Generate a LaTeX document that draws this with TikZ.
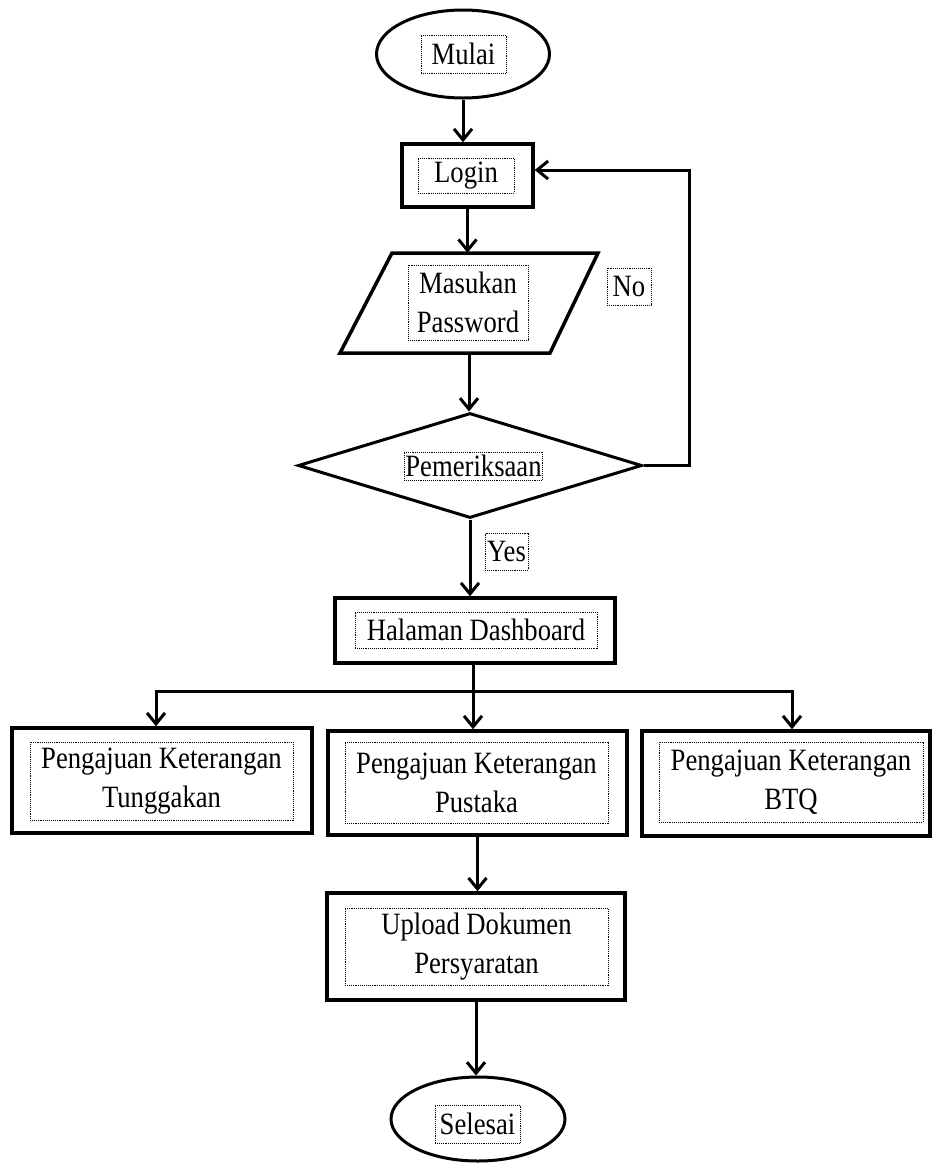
\documentclass[tikz,border=0pt]{standalone}
\usepackage{fontspec}
\setmainfont{Liberation Serif}[FakeStretch=0.86]
\usetikzlibrary{shapes.geometric,arrows.meta}
\tikzset{
  box/.style={draw, rectangle, line width=3.5pt, inner sep=0pt},
  term/.style={draw, ellipse, line width=3pt, inner sep=0pt},
  txt/.style={draw, densely dotted, line width=0.9pt, align=center, inner sep=1pt, font=\fontsize{31}{39}\selectfont},
  arr/.style={line width=3pt, -{Straight Barb[length=11pt,width=18pt,line width=3pt]}},
  ln/.style={line width=3pt},
}
\begin{document}
\begin{tikzpicture}[x=1pt,y=-1pt]
\useasboundingbox (0,0) rectangle (932,1163);
% shapes
\node[term, minimum width=173pt, minimum height=88pt] (mulai) at (463,54) {};
\node[txt, minimum width=85pt, minimum height=38pt] (tmulai) at (463.5,54) {Mulai};
\node[box, minimum width=131pt, minimum height=63pt] (login) at (467.5,175.5) {};
\node[txt, minimum width=96pt, minimum height=35pt] (tlogin) at (466,175.5) {Login};
\draw[line width=3.5pt] (340,353) -- (392,253) -- (598,253) -- (550,353) -- cycle;
\node[minimum width=210pt, minimum height=100pt, inner sep=0pt] (para) at (469,303) {};
\node[txt, minimum width=120pt, minimum height=75pt] (tpara) at (468,302.5) {Masukan\\Password};
\node[txt, minimum width=44pt, minimum height=37pt] (tno) at (629,286.5) {No};
\node[draw, diamond, line width=3pt, minimum width=344pt, minimum height=105pt, aspect=3.28, inner sep=0pt] (diam) at (470,465.5) {};
\node[txt, minimum width=137pt, minimum height=28pt] (tdiam) at (473.5,466) {Pemeriksaan};
\node[txt, minimum width=43pt, minimum height=37pt] (tyes) at (506.5,551.5) {Yes};
\node[box, minimum width=280pt, minimum height=65pt] (halaman) at (475,630.5) {};
\node[txt, minimum width=242pt, minimum height=36pt] (thalaman) at (476,630) {Halaman Dashboard};
\node[box, minimum width=300pt, minimum height=105pt] (left) at (162,780.5) {};
\node[txt, minimum width=263pt, minimum height=78pt] (tleft) at (161.5,781) {Pengajuan Keterangan\\Tunggakan};
\node[box, minimum width=299pt, minimum height=104pt] (mid) at (477.5,783) {};
\node[txt, minimum width=263pt, minimum height=81pt] (tmid) at (476.5,782.5) {Pengajuan Keterangan\\Pustaka};
\node[box, minimum width=288pt, minimum height=105pt] (right) at (786,783.5) {};
\node[txt, minimum width=264pt, minimum height=80pt] (tright) at (791,782) {Pengajuan Keterangan\\BTQ};
\node[box, minimum width=298pt, minimum height=107pt] (upload) at (476,946.5) {};
\node[txt, minimum width=263pt, minimum height=77pt] (tupload) at (476.5,946.5) {Upload Dokumen\\Persyaratan};
\node[term, minimum width=174pt, minimum height=84pt] (selesai) at (478,1119) {};
\node[txt, minimum width=85pt, minimum height=38pt] (tselesai) at (477.5,1124) {Selesai};
% connectors
\draw[arr] (mulai.south) -- (mulai.south |- login.north);
\draw[arr] (login.south) -- (login.south |- para.north);
\draw[arr] (para.south) -- (para.south |- diam.north);
\draw[arr] (diam.south) -- (diam.south |- halaman.north);
\coordinate (fb) at (689,170);
\draw[arr] (diam.east) -| (fb) -- (fb -| login.east);
\coordinate (br) at (473,691);
\coordinate (bl) at (156,691);
\coordinate (brr) at (792,691);
\draw[ln] (halaman.south -| br) -- (br);
\draw[arr] (br) -- (bl) -- (bl |- left.north);
\draw[arr] (br) -- (brr) -- (brr |- right.north);
\draw[arr] (br) -- (br |- mid.north);
\draw[arr] (mid.south) -- (mid.south |- upload.north);
\draw[arr] (upload.south) -- (upload.south |- selesai.north);
\end{tikzpicture}
\end{document}
